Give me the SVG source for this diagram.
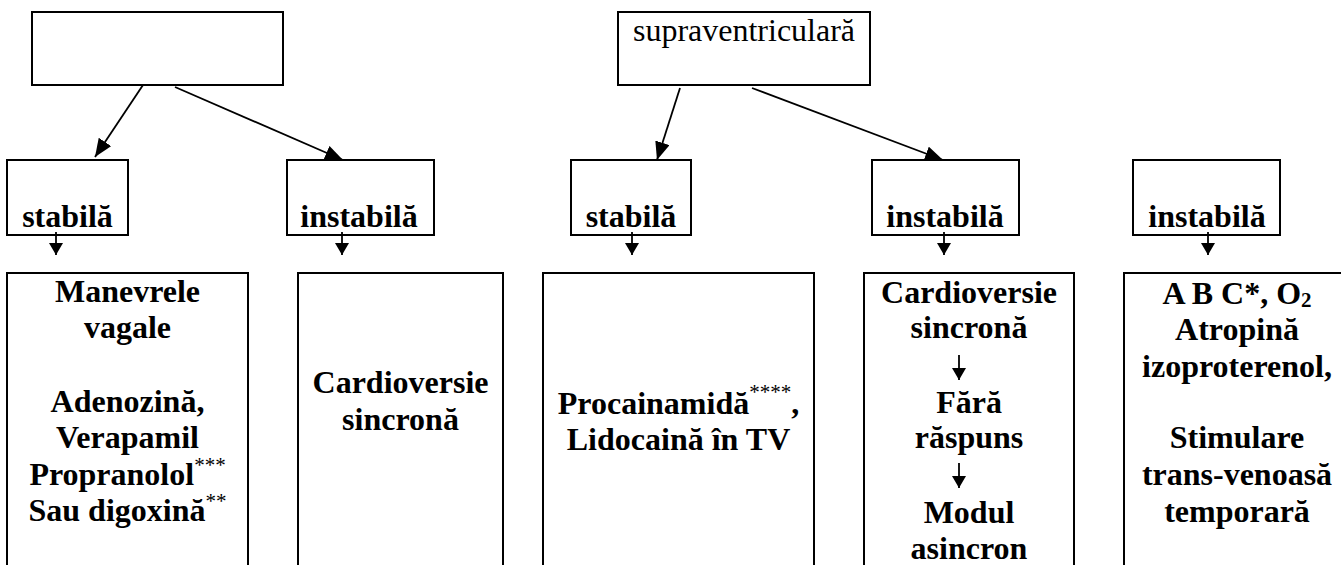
<svg xmlns="http://www.w3.org/2000/svg" width="1341" height="565" viewBox="0 0 1341 565">
<style>
.box{fill:#fff;stroke:#000;stroke-width:2}
.t{font-family:"Liberation Serif","Times New Roman","DejaVu Serif",serif;font-size:32px;font-weight:bold;fill:#000;text-anchor:middle}
.r{font-weight:normal}
.sup{font-size:21px;font-weight:normal}
.sub{font-size:21px}
.c{stroke:#000;stroke-width:1.8;fill:none}
</style>
<defs>
<marker id="big" markerUnits="userSpaceOnUse" markerWidth="20" markerHeight="18" refX="18" refY="7.5" orient="auto">
<path d="M0,0 L18,7.5 L0,15 Z" fill="#000"/>
</marker>
<marker id="small" markerUnits="userSpaceOnUse" markerWidth="14" markerHeight="16" refX="12" refY="7" orient="auto">
<path d="M0,0 L12,7 L0,14 Z" fill="#000"/>
</marker>
</defs>
<rect width="1341" height="565" fill="#fff"/>
<g id="top-left"><rect class="box" x="32" y="12" width="251" height="73"/></g>
<g id="top-supra"><rect class="box" x="618" y="12" width="252" height="73"/><text class="t r" x="744" y="41">supraventriculară</text></g>
<g id="stabila-1"><rect class="box" x="7" y="160" width="121" height="75"/><text class="t" x="67.5" y="227">stabilă</text></g>
<g id="instabila-1"><rect class="box" x="287" y="160" width="147" height="75"/><text class="t" x="359" y="227">instabilă</text></g>
<g id="stabila-2"><rect class="box" x="571" y="160" width="120" height="75"/><text class="t" x="631" y="227">stabilă</text></g>
<g id="instabila-2"><rect class="box" x="872" y="160" width="147" height="75"/><text class="t" x="945" y="227">instabilă</text></g>
<g id="instabila-3"><rect class="box" x="1133" y="160" width="147" height="75"/><text class="t" x="1207" y="227">instabilă</text></g>
<g id="treat-1"><rect class="box" x="7" y="273" width="241" height="310"/>
<text class="t" x="127.5" y="302">Manevrele</text>
<text class="t" x="127.5" y="338">vagale</text>
<text class="t" x="127.5" y="412">Adenozină,</text>
<text class="t" x="127.5" y="448">Verapamil</text>
<text class="t" x="127.5" y="485">Propranolol<tspan class="sup" dy="-13">***</tspan></text>
<text class="t" x="127.5" y="521">Sau digoxină<tspan class="sup" dy="-13">**</tspan></text>
</g>
<g id="treat-2"><rect class="box" x="298" y="273" width="205" height="310"/>
<text class="t" x="400.5" y="393">Cardioversie</text>
<text class="t" x="400.5" y="430">sincronă</text>
</g>
<g id="treat-3"><rect class="box" x="543" y="273" width="271" height="310"/>
<text class="t" x="678.5" y="414">Procainamidă<tspan class="sup" dy="-15">****</tspan><tspan dy="15">,</tspan></text>
<text class="t" x="678.5" y="450">Lidocaină în TV</text>
</g>
<g id="treat-4"><rect class="box" x="864" y="273" width="210" height="310"/>
<text class="t" x="969" y="303">Cardioversie</text>
<text class="t" x="969" y="338">sincronă</text>
<line class="c" x1="959" y1="355" x2="959" y2="380" marker-end="url(#small)"/>
<text class="t" x="969" y="413">Fără</text>
<text class="t" x="969" y="448">răspuns</text>
<line class="c" x1="959" y1="463" x2="959" y2="488" marker-end="url(#small)"/>
<text class="t" x="969" y="523">Modul</text>
<text class="t" x="969" y="559">asincron</text>
</g>
<g id="treat-5"><rect class="box" x="1124" y="273" width="230" height="310"/>
<text class="t" x="1237" y="304">A B C*, O<tspan class="sub" dy="3">2</tspan></text>
<text class="t" x="1237" y="340">Atropină</text>
<text class="t" x="1237" y="377">izoproterenol,</text>
<text class="t" x="1237" y="448">Stimulare</text>
<text class="t" x="1237" y="485">trans-venoasă</text>
<text class="t" x="1237" y="522">temporară</text>
</g>
<g id="connectors">
<line class="c" x1="143" y1="85" x2="95" y2="157" marker-end="url(#big)"/>
<line class="c" x1="175" y1="87" x2="343" y2="160" marker-end="url(#big)"/>
<line class="c" x1="680" y1="88" x2="657" y2="160" marker-end="url(#big)"/>
<line class="c" x1="752" y1="88" x2="943" y2="160" marker-end="url(#big)"/>
<line class="c" x1="56" y1="232" x2="56" y2="255" marker-end="url(#small)"/>
<line class="c" x1="342" y1="232" x2="342" y2="255" marker-end="url(#small)"/>
<line class="c" x1="632" y1="232" x2="632" y2="255" marker-end="url(#small)"/>
<line class="c" x1="944" y1="232" x2="944" y2="255" marker-end="url(#small)"/>
<line class="c" x1="1208" y1="232" x2="1208" y2="255" marker-end="url(#small)"/>
</g>
</svg>
